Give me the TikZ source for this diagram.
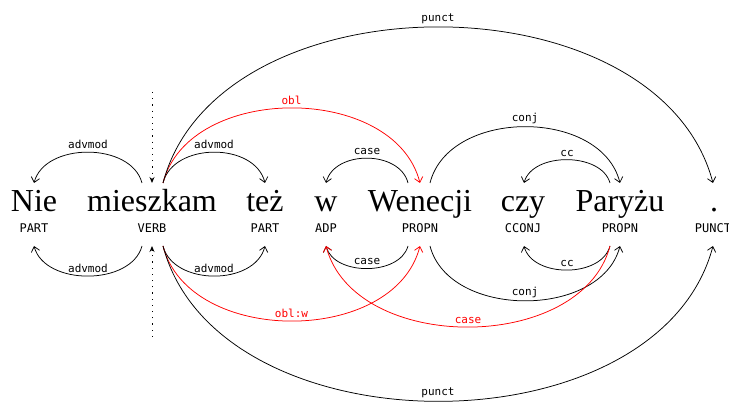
\documentclass[tikz,border=0pt]{standalone}
\usepackage{fontspec}
\newfontfamily\monofont{DejaVu Sans Mono}
\newfontfamily\wordfont{Liberation Serif}
\usetikzlibrary{arrows.meta,calc}
% #1 extra style, #2 from, #3 to, #4 signed control height, #5 label
\newcommand{\deparc}[5]{%
  \draw[arcline,#1] (#2) .. controls ($(#2)!0.1!(#3)+(0,#4)$) and ($(#3)!0.1!(#2)+(0,#4)$) .. (#3)
    node[midway,arclabel]{#5};}
\begin{document}
\begin{tikzpicture}[x=1pt,y=-1pt,
  word/.style={font=\wordfont\fontsize{32}{38}\selectfont, anchor=base, inner sep=0pt},
  postag/.style={font=\monofont\fontsize{12}{14}\selectfont, anchor=base, inner sep=0pt},
  arcline/.style={line width=0.75pt, -{Straight Barb[length=5pt,width=8.5pt]}},
  arclabel/.style={font=\monofont\fontsize{11}{13}\selectfont, above=1.5pt, inner sep=1.5pt},
  redarc/.style={red},
  rootline/.style={line width=0.9pt, dash pattern=on 1.2pt off 5pt, -{Stealth[length=6pt,width=5pt]}}]
\useasboundingbox (0,0) rectangle (729,403);
% words
\node[word] (w1) at (34,212) {Nie};
\node[word] (w2) at (152,212) {mieszkam};
\node[word] (w3) at (265,212) {też};
\node[word] (w4) at (326,212) {w};
\node[word] (w5) at (420,212) {Wenecji};
\node[word] (w6) at (523,212) {czy};
\node[word] (w7) at (620,212) {Paryżu};
\node[word] (w8) at (714,212) {.};
% POS tags
\node[postag] (p1) at (34,233) {PART};
\node[postag] (p2) at (152,233) {VERB};
\node[postag] (p3) at (265,233) {PART};
\node[postag] (p4) at (326,233) {ADP};
\node[postag] (p5) at (420,233) {PROPN};
\node[postag] (p6) at (523,233) {CCONJ};
\node[postag] (p7) at (620,233) {PROPN};
\node[postag] (p8) at (713,233) {PUNCT};
% arc end points, top
\coordinate (t1) at (34,183);
\coordinate (t2) at (152,183);
\coordinate (t2L) at (142,183);
\coordinate (t2R) at (163,183);
\coordinate (t3) at (265,183);
\coordinate (t4) at (326,183);
\coordinate (t5) at (420,183);
\coordinate (t5L) at (408,183);
\coordinate (t5R) at (430,183);
\coordinate (t6) at (524,183);
\coordinate (t7) at (620,183);
\coordinate (t7L) at (610,183);
\coordinate (t8) at (713,183);
% arc end points, bottom
\coordinate (b1) at (34,246);
\coordinate (b2) at (152,246);
\coordinate (b2L) at (142,246);
\coordinate (b2R) at (163,246);
\coordinate (b3) at (265,246);
\coordinate (b4) at (326,246);
\coordinate (b5) at (420,246);
\coordinate (b5L) at (408,246);
\coordinate (b5R) at (430,246);
\coordinate (b6) at (524,246);
\coordinate (b7) at (620,246);
\coordinate (b7L) at (610,246);
\coordinate (b8) at (713,246);
% root
\coordinate (rootT) at (152,92);
\coordinate (rootB) at (152,337);
\draw[rootline] (rootT) -- (t2);
\draw[rootline] (rootB) -- (b2);
% top arcs
\deparc{}{t2L}{t1}{-41}{advmod}
\deparc{}{t2R}{t3}{-41}{advmod}
\deparc{redarc}{t2R}{t5}{-100}{obl}
\deparc{}{t2R}{t8}{-208}{punct}
\deparc{}{t5L}{t4}{-33}{case}
\deparc{}{t5R}{t7}{-75}{conj}
\deparc{}{t7L}{t6}{-31}{cc}
% bottom arcs
\deparc{}{b2L}{b1}{40}{advmod}
\deparc{}{b2R}{b3}{40}{advmod}
\deparc{redarc}{b2R}{b5}{100}{obl:w}
\deparc{}{b2R}{b8}{207}{punct}
\deparc{}{b5L}{b4}{30}{case}
\deparc{}{b5R}{b7}{73}{conj}
\deparc{}{b7L}{b6}{32}{cc}
\deparc{redarc}{b7L}{b4}{108}{case}
\end{tikzpicture}
\end{document}
